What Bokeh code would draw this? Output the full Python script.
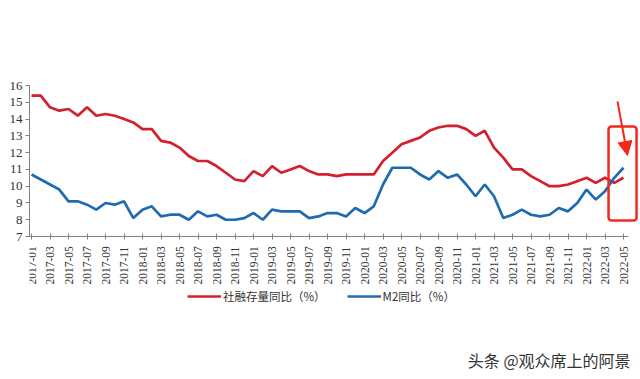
import math
from bokeh.plotting import figure
from bokeh.models import (Range1d, Legend, LegendItem, Arrow, NormalHead, Label,
                          FixedTicker, BoxAnnotation)
from bokeh.embed import file_html
from bokeh.resources import INLINE

# ---- data ----
months = [f"{y}-{m:02d}" for y in range(2017, 2023) for m in range(1, 13)][:65]

tsf_yoy = [
    15.4, 15.4, 14.7, 14.5, 14.6, 14.2, 14.7, 14.2, 14.3, 14.2, 14.0, 13.8,   # 2017
    13.4, 13.4, 12.7, 12.6, 12.3, 11.8, 11.5, 11.5, 11.2, 10.8, 10.4, 10.3,   # 2018
    10.9, 10.6, 11.2, 10.8, 11.0, 11.2, 10.9, 10.7, 10.7, 10.6, 10.7, 10.7,   # 2019
    10.7, 10.7, 11.5, 12.0, 12.5, 12.7, 12.9, 13.3, 13.5, 13.6, 13.6, 13.4,   # 2020
    13.0, 13.3, 12.3, 11.7, 11.0, 11.0, 10.6, 10.3, 10.0, 10.0, 10.1, 10.3,   # 2021
    10.5, 10.2, 10.5, 10.2, 10.5,                                             # 2022
]
m2_yoy = [
    10.7, 10.4, 10.1, 9.8, 9.1, 9.1, 8.9, 8.6, 9.0, 8.9, 9.1, 8.1,            # 2017
    8.6, 8.8, 8.2, 8.3, 8.3, 8.0, 8.5, 8.2, 8.3, 8.0, 8.0, 8.1,               # 2018
    8.4, 8.0, 8.6, 8.5, 8.5, 8.5, 8.1, 8.2, 8.4, 8.4, 8.2, 8.7,               # 2019
    8.4, 8.8, 10.1, 11.1, 11.1, 11.1, 10.7, 10.4, 10.9, 10.5, 10.7, 10.1,     # 2020
    9.4, 10.1, 9.4, 8.1, 8.3, 8.6, 8.3, 8.2, 8.3, 8.7, 8.5, 9.0,              # 2021
    9.8, 9.2, 9.7, 10.5, 11.1,                                                # 2022
]
series_names = ["社融存量同比（%）", "M2同比（%）"]
watermark = "头条 @观众席上的阿景"
y_ticks = list(range(7, 17))
x_idx = list(range(len(months)))

RED = "#d4202e"
BLUE = "#1f6bb0"
MARK = "#f0281e"

# frame spans the whole lower part; value axis 7..16 occupies its top 151 px
p = figure(frame_width=609, frame_height=292, output_backend="svg",
           toolbar_location=None, x_axis_location="above",
           x_range=Range1d(-0.22, 65.62), y_range=Range1d(-1.40, 16),
           min_border_left=29, min_border_right=0, min_border_top=85,
           min_border_bottom=0)
p.outline_line_color = None
p.xgrid.visible = False
p.ygrid.visible = False
p.background_fill_color = "white"
p.border_fill_color = "white"

r_red = p.line(x_idx, tsf_yoy, line_color=RED, line_width=2.7)
r_blue = p.line(x_idx, m2_yoy, line_color=BLUE, line_width=2.7)

# y axis
p.yaxis.ticker = FixedTicker(ticks=y_ticks)
p.yaxis.bounds = (7, 16)
p.yaxis.minor_tick_line_color = None
p.yaxis.major_tick_in = 0
p.yaxis.major_tick_out = 4
p.yaxis.major_label_standoff = 3
p.yaxis.axis_line_color = "#808080"
p.yaxis.major_tick_line_color = "#808080"
p.yaxis.major_label_text_font = "Liberation Serif"
p.yaxis.major_label_text_font_size = "13px"
p.yaxis.major_label_text_color = "#333333"

# x axis drawn at y = 7, labels pushed below the line
p.xaxis.fixed_location = 7
p.xaxis.ticker = FixedTicker(ticks=list(range(0, 65, 2)))
p.xaxis.major_label_overrides = {i: months[i] for i in range(0, 65, 2)}
p.xaxis.major_label_orientation = math.pi / 2
p.xaxis.bounds = (-0.22, 64.5)
p.xaxis.minor_tick_line_color = None
p.xaxis.major_tick_in = 3
p.xaxis.major_tick_out = 3
p.xaxis.major_label_standoff = -51
p.xaxis.axis_line_color = "#808080"
p.xaxis.major_tick_line_color = "#808080"
p.xaxis.major_label_text_font = "Liberation Serif"
p.xaxis.major_label_text_font_size = "11.5px"
p.xaxis.major_label_text_color = "#333333"

# legend
legend = Legend(items=[LegendItem(label=series_names[0], renderers=[r_red]),
                       LegendItem(label=series_names[1], renderers=[r_blue])],
                orientation="horizontal", location=(156, 71),
                border_line_alpha=0, background_fill_alpha=0,
                label_text_font="Noto Sans CJK SC", label_text_font_size="11.5px",
                label_text_color="#333333",
                glyph_width=34, glyph_height=12, spacing=21, label_standoff=2,
                margin=0, padding=2)
p.add_layout(legend)

# red highlight box and arrow
box = BoxAnnotation(left=62.38, right=65.41, bottom=7.95, top=13.56,
                    fill_alpha=0, line_color=MARK, line_alpha=1.0,
                    line_width=2.5, border_radius=3)
p.add_layout(box)
arrow = Arrow(end=NormalHead(size=14, fill_color=MARK, line_color=MARK),
              x_start=63.35, y_start=15.05, x_end=64.43, y_end=11.83,
              line_color=MARK, line_width=2)
p.add_layout(arrow)

# watermark
wm = Label(x=64.76, y=-0.33, text=watermark, text_align="right",
           text_baseline="middle", text_font="Noto Sans CJK SC",
           text_font_size="16px", text_color="#333333")
p.add_layout(wm)

open("out.html", "w").write(file_html(p, INLINE))
